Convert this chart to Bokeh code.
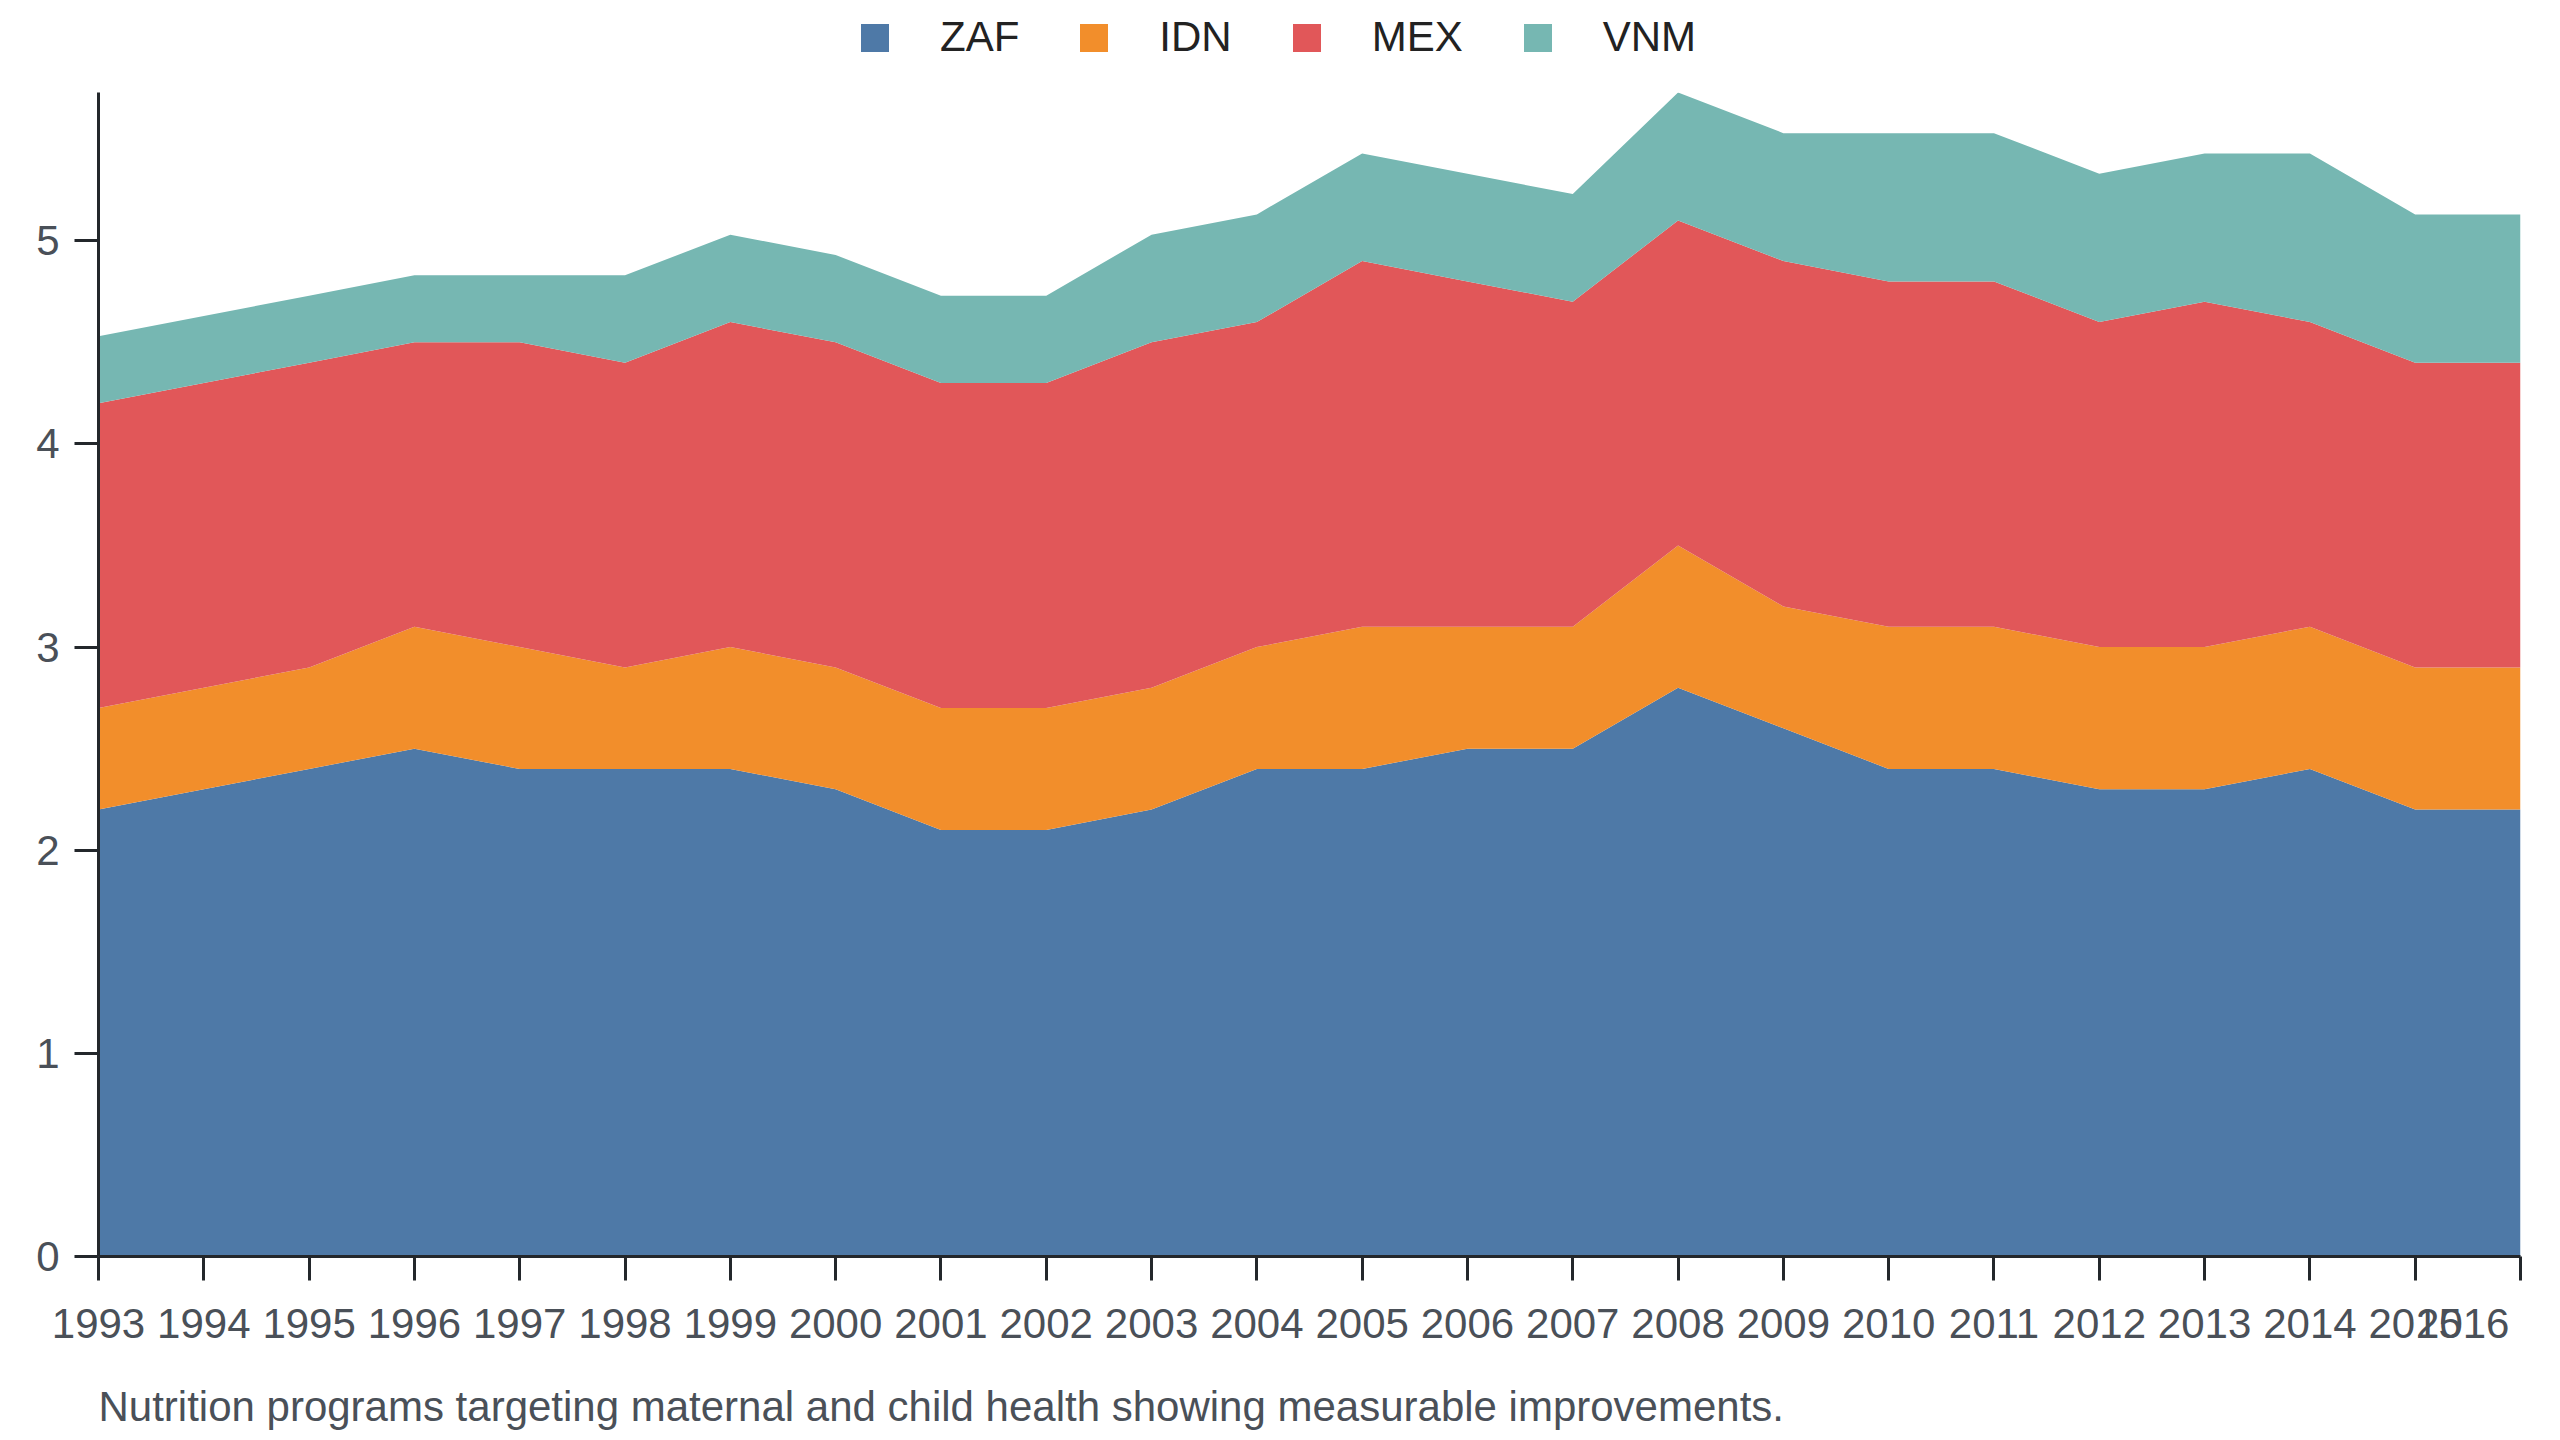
from bokeh.plotting import figure
from bokeh.layouts import column
from bokeh.models import ColumnDataSource, Range1d, FixedTicker, Legend, Title
from bokeh.embed import file_html
from bokeh.resources import INLINE

years = list(range(1993, 2017))
series = ["ZAF", "IDN", "MEX", "VNM"]
zaf = [2.2, 2.3, 2.4, 2.5, 2.4, 2.4, 2.4, 2.3, 2.1, 2.1, 2.2, 2.4, 2.4, 2.5, 2.5, 2.8, 2.6, 2.4, 2.4, 2.3, 2.3, 2.4, 2.2, 2.2]
idn = [0.5, 0.5, 0.5, 0.6, 0.6, 0.5, 0.6, 0.6, 0.6, 0.6, 0.6, 0.6, 0.7, 0.6, 0.6, 0.7, 0.6, 0.7, 0.7, 0.7, 0.7, 0.7, 0.7, 0.7]
mex = [1.5, 1.5, 1.5, 1.4, 1.5, 1.5, 1.6, 1.6, 1.6, 1.6, 1.7, 1.6, 1.8, 1.7, 1.6, 1.6, 1.7, 1.7, 1.7, 1.6, 1.7, 1.5, 1.5, 1.5]
vnm = [0.33, 0.33, 0.33, 0.33, 0.33, 0.43, 0.43, 0.43, 0.43, 0.43, 0.53, 0.53, 0.53, 0.53, 0.53, 0.63, 0.63, 0.73, 0.73, 0.73, 0.73, 0.83, 0.73, 0.73]
y_ticks = [0, 1, 2, 3, 4, 5]
caption = "Nutrition programs targeting maternal and child health showing measurable improvements."

colors = ["#4e79a7", "#f28e2b", "#e15759", "#76b7b2"]
FONT = "Liberation Sans"
TICK_COLOR = "#4a5058"
AXIS_COLOR = "#23272b"
W = 2544
TOP_H = 92
MAIN_H = 1288
CAP_H = 60
LEFT, RIGHT = 98, 24

source = ColumnDataSource(dict(year=years, ZAF=zaf, IDN=idn, MEX=mex, VNM=vnm))

# ---- main chart ----
p = figure(width=W, height=MAIN_H, output_backend="svg", toolbar_location=None,
           x_range=Range1d(years[0], years[-1]), y_range=Range1d(0, 5.73),
           min_border_left=LEFT, min_border_right=RIGHT, min_border_top=0, min_border_bottom=124)
p.outline_line_color = None
p.background_fill_color = "white"
p.border_fill_color = "white"
p.xgrid.visible = False
p.ygrid.visible = False

p.varea_stack(series, x="year", color=colors, source=source)

for ax in (p.xaxis[0], p.yaxis[0]):
    ax.axis_line_color = AXIS_COLOR
    ax.axis_line_width = 3
    ax.major_tick_line_color = AXIS_COLOR
    ax.major_tick_line_width = 3
    ax.major_tick_out = 24
    ax.major_tick_in = 0
    ax.minor_tick_line_color = None
    ax.major_label_text_font = FONT
    ax.major_label_text_font_size = "42px"
    ax.major_label_text_color = TICK_COLOR

p.xaxis[0].ticker = FixedTicker(ticks=years)
p.xaxis[0].major_label_standoff = 19
# the last label sits right-aligned on its tick (overlapping 2015), as in the reference
p.xaxis[0].major_label_overrides = {years[-1]: str(years[-1]) + "\u00a0" * 3}
p.yaxis[0].ticker = FixedTicker(ticks=y_ticks)
p.yaxis[0].major_label_standoff = 15

# ---- legend strip above the chart ----
lf = figure(width=W, height=TOP_H, output_backend="svg", toolbar_location=None,
            x_range=p.x_range, y_range=Range1d(100, 101),
            x_axis_location=None, y_axis_location=None,
            min_border_left=LEFT, min_border_right=RIGHT, min_border_top=0, min_border_bottom=0)
lf.outline_line_color = None
lf.grid.visible = False
lf.background_fill_color = "white"
lf.border_fill_color = "white"
leg_renderers = lf.varea_stack(series, x="year", color=colors, source=source)

legend = Legend(items=[(s, [r]) for s, r in zip(series, leg_renderers)],
                orientation="horizontal", location=(759, 31),
                glyph_width=35, glyph_height=35, label_standoff=48, spacing=57,
                label_height=35, label_width=0, padding=0, margin=0,
                border_line_color=None, background_fill_alpha=0,
                label_text_font=FONT, label_text_font_size="42px", label_text_color="#222222")
lf.add_layout(legend, "center")

# ---- caption strip below the chart ----
cf = figure(width=W, height=CAP_H, output_backend="svg", toolbar_location=None,
            x_range=p.x_range, y_range=Range1d(0, 1),
            x_axis_location=None, y_axis_location=None,
            min_border_left=LEFT, min_border_right=RIGHT, min_border_top=0, min_border_bottom=0)
cf.outline_line_color = None
cf.grid.visible = False
cf.background_fill_color = "white"
cf.border_fill_color = "white"
title = Title(text=caption, align="left", text_font=FONT, text_font_size="42px",
              text_font_style="normal", text_color=TICK_COLOR, standoff=0)
cf.add_layout(title, "above")

layout = column(lf, p, cf, spacing=0)
open("out.html", "w").write(file_html(layout, INLINE))
